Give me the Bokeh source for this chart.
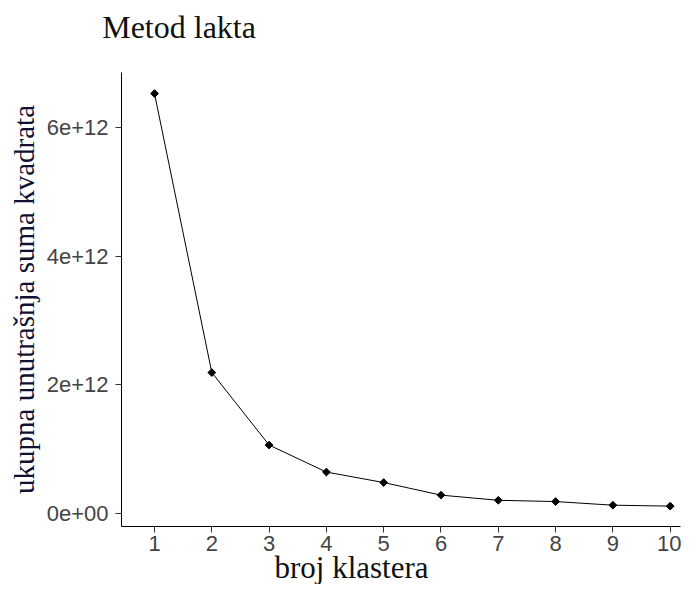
import math
from bokeh.plotting import figure
from bokeh.models import Label, Range1d, FixedTicker
from bokeh.embed import file_html
from bokeh.resources import INLINE

# data
clusters = [1, 2, 3, 4, 5, 6, 7, 8, 9, 10]
wss = [6.528e12, 2.19e12, 1.063e12, 0.643e12, 0.48e12, 0.284e12, 0.204e12, 0.184e12, 0.128e12, 0.113e12]
y_ticks = [0, 2e12, 4e12, 6e12]
y_tick_labels = ["0e+00", "2e+12", "4e+12", "6e+12"]
title_text = "Metod lakta"
x_title = "broj klastera"
y_title = "ukupna unutrašnja suma kvadrata"

p = figure(width=681, height=584, output_backend="svg", toolbar_location=None,
           x_range=Range1d(0.424, 10.18), y_range=Range1d(-0.2036e12, 6.855e12),
           min_border_left=121, min_border_right=1, min_border_top=72, min_border_bottom=58)
p.outline_line_color = None
p.grid.visible = False
p.background_fill_color = "white"
p.border_fill_color = "white"

p.line(clusters, wss, line_color="black", line_width=1)
p.scatter(clusters, wss, marker="square", angle=math.pi / 4, size=5.5,
          fill_color="black", line_color="black", line_width=1)

for ax in (p.xaxis[0], p.yaxis[0]):
    ax.axis_line_color = "black"
    ax.axis_line_width = 1
    ax.major_tick_line_color = "#333333"
    ax.major_tick_in = 0
    ax.major_tick_out = 6
    ax.minor_tick_line_color = None
    ax.major_label_text_font = "Liberation Sans"
    ax.major_label_text_font_size = "22px"
    ax.major_label_text_color = "#444444"
p.yaxis.major_label_standoff = 7
p.xaxis.major_label_standoff = 3

p.xaxis.ticker = FixedTicker(ticks=clusters)
p.yaxis.ticker = FixedTicker(ticks=y_ticks)
p.yaxis.major_label_overrides = {t: l for t, l in zip(y_ticks, y_tick_labels)}

p.add_layout(Label(x=0.0873, y=7.567e12, text=title_text, text_font="Liberation Serif",
                   text_font_size="32px", text_color="#111111", text_baseline="middle",
                   text_align="left"), "above")
p.add_layout(Label(x=3.094, y=-0.841e12, text=x_title, text_font="Liberation Serif",
                   text_font_size="31px", text_color="#111111", text_baseline="middle",
                   text_align="left"), "above")
p.add_layout(Label(x=-1.283, y=3.326e12, text=y_title, text_font="Liberation Serif",
                   text_font_size="29px", text_color="#111133", text_baseline="middle",
                   text_align="center", angle=math.pi / 2), "left")

open("out.html", "w").write(file_html(p, INLINE))
